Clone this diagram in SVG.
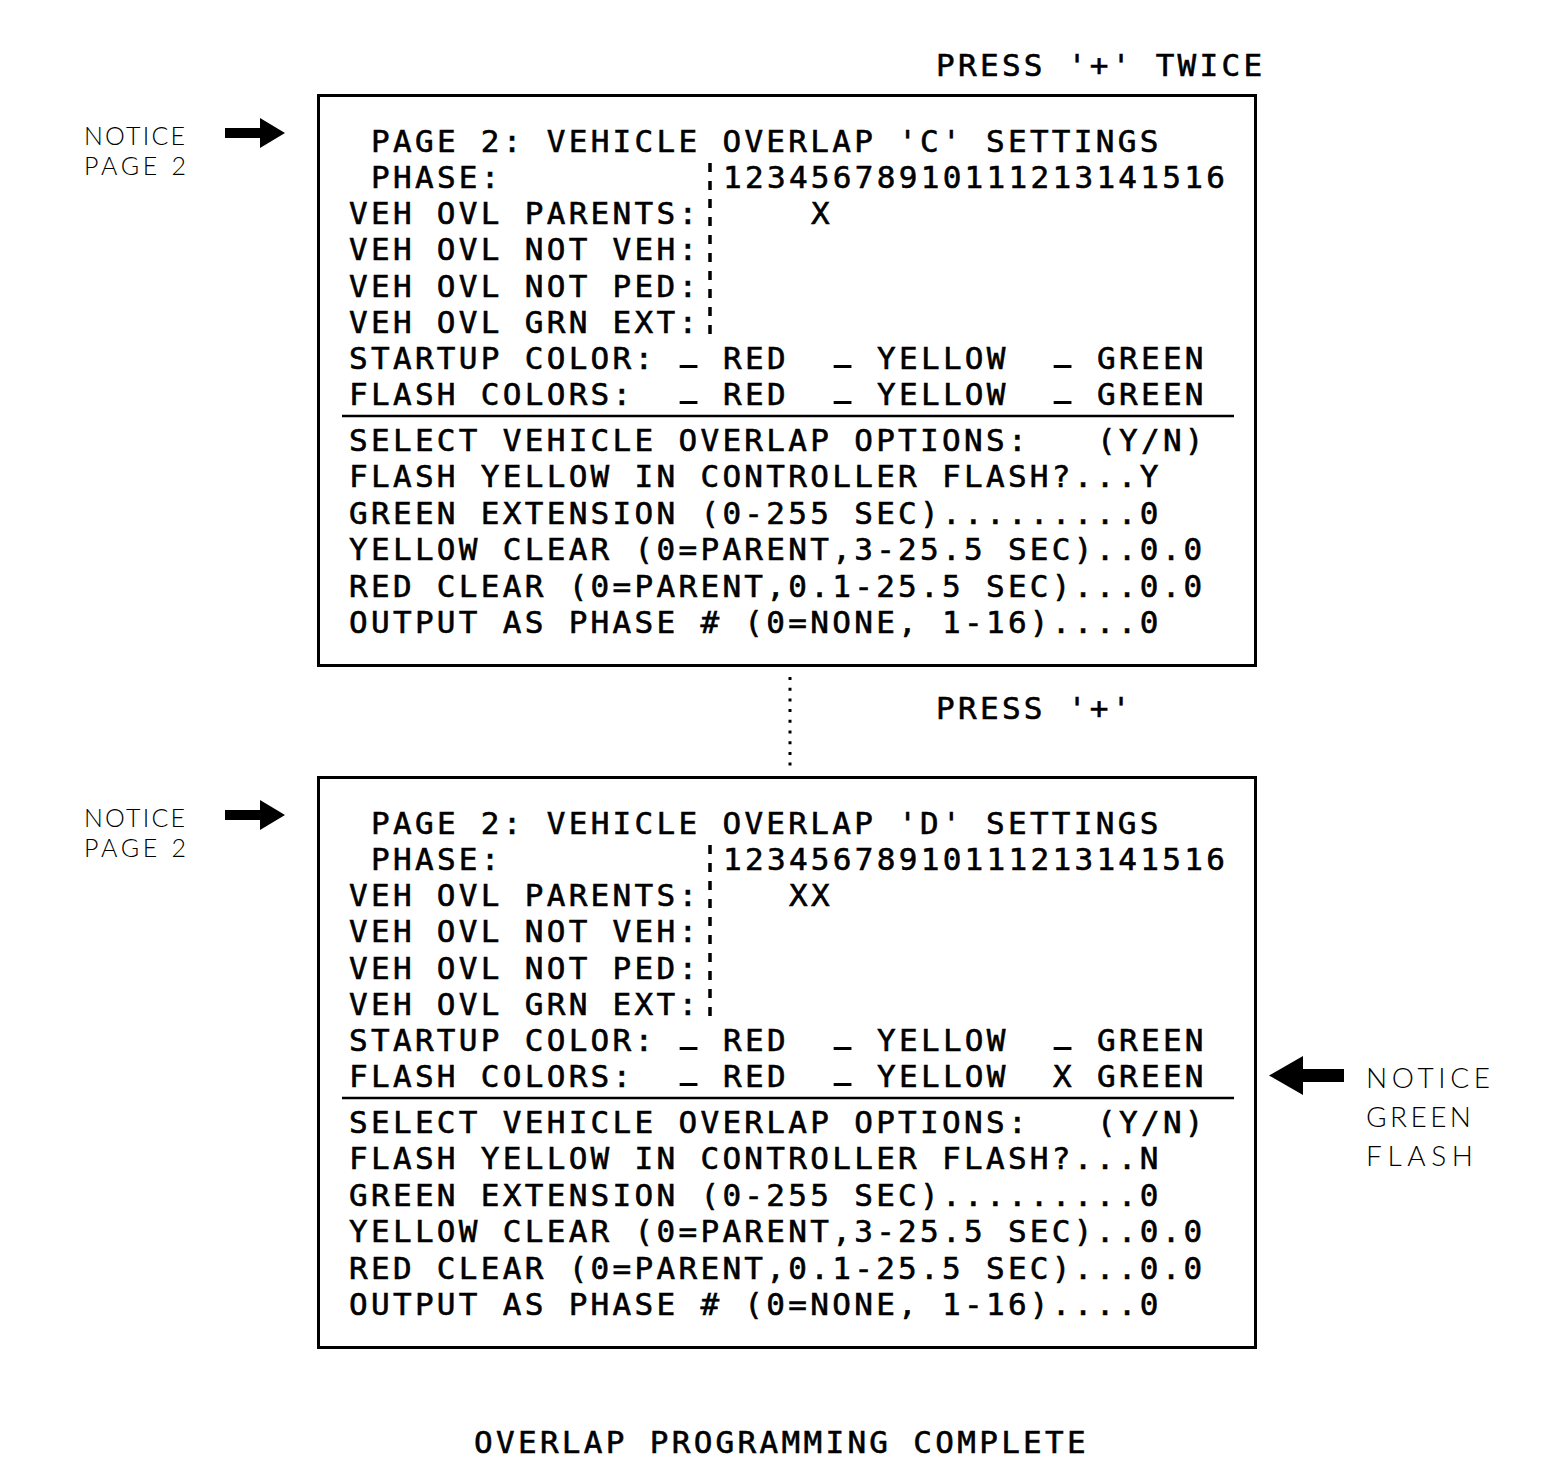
<svg xmlns="http://www.w3.org/2000/svg" width="1568" height="1480" viewBox="0 0 1568 1480">
<style>
.m{font-family:"DejaVu Sans Mono","Liberation Mono",monospace;font-size:31px;letter-spacing:3.3px;fill:#000;stroke:#000;stroke-width:0.6px}
.u{font-family:"DejaVu Sans Mono","Liberation Mono",monospace;font-size:20px;fill:#000;stroke:#000;stroke-width:2.2px}
.t{font-family:"Lato","DejaVu Sans",sans-serif;font-weight:300;fill:#000}
.box{fill:none;stroke:#000;stroke-width:3}
.sep{stroke:#000;stroke-width:2.5}
.bar{stroke:#000;stroke-width:3.5;stroke-dasharray:9 9}
</style>
<rect width="1568" height="1480" fill="#fff"/>

<g id="label-press-twice"><text class="m" x="936" y="76">PRESS '+' TWICE</text></g>
<g id="label-press-once"><text class="m" x="936" y="719">PRESS '+'</text></g>
<g id="label-complete"><text class="m" x="474" y="1453">OVERLAP PROGRAMMING COMPLETE</text></g>

<g id="note-page2-c">
<text class="t" x="84" y="145" font-size="25" textLength="101" lengthAdjust="spacing">NOTICE</text>
<text class="t" x="84" y="175" font-size="25" textLength="102" lengthAdjust="spacing">PAGE 2</text>
</g>
<g id="note-page2-d">
<text class="t" x="84" y="827" font-size="25" textLength="101" lengthAdjust="spacing">NOTICE</text>
<text class="t" x="84" y="857" font-size="25" textLength="102" lengthAdjust="spacing">PAGE 2</text>
</g>
<g id="note-green-flash">
<text class="t" x="1366" y="1088" font-size="28" textLength="124" lengthAdjust="spacing">NOTICE</text>
<text class="t" x="1366" y="1127" font-size="28" textLength="105" lengthAdjust="spacing">GREEN</text>
<text class="t" x="1366" y="1166" font-size="28" textLength="107" lengthAdjust="spacing">FLASH</text>
</g>

<g id="screen-c">
<rect class="box" x="318.5" y="95.5" width="937" height="570"/>
<line class="sep" x1="342" y1="416" x2="1234" y2="416"/>
<line class="bar" x1="710" y1="163" x2="710" y2="336"/>
<text class="m" x="371" y="152">PAGE 2: VEHICLE OVERLAP 'C' SETTINGS</text>
<text class="m" x="371" y="188">PHASE:</text>
<text class="m" x="723" y="188">12345678910111213141516</text>
<text class="m" x="349" y="224">VEH OVL PARENTS:</text>
<text class="m" x="811" y="224">X</text>
<text class="m" x="349" y="260">VEH OVL NOT VEH:</text>
<text class="m" x="349" y="297">VEH OVL NOT PED:</text>
<text class="m" x="349" y="333">VEH OVL GRN EXT:</text>
<text class="m" x="349" y="369">STARTUP COLOR:</text>
<text class="u" x="681" y="362" textLength="15" lengthAdjust="spacingAndGlyphs">_</text><text class="m" x="723" y="369">RED</text>
<text class="u" x="835" y="362" textLength="15" lengthAdjust="spacingAndGlyphs">_</text><text class="m" x="877" y="369">YELLOW</text>
<text class="u" x="1055" y="362" textLength="15" lengthAdjust="spacingAndGlyphs">_</text><text class="m" x="1097" y="369">GREEN</text>
<text class="m" x="349" y="405">FLASH COLORS:</text>
<text class="u" x="681" y="398" textLength="15" lengthAdjust="spacingAndGlyphs">_</text><text class="m" x="723" y="405">RED</text>
<text class="u" x="835" y="398" textLength="15" lengthAdjust="spacingAndGlyphs">_</text><text class="m" x="877" y="405">YELLOW</text>
<text class="u" x="1055" y="398" textLength="15" lengthAdjust="spacingAndGlyphs">_</text><text class="m" x="1097" y="405">GREEN</text>
<text class="m" x="349" y="451">SELECT VEHICLE OVERLAP OPTIONS:</text>
<text class="m" x="1097" y="451">(Y/N)</text>
<text class="m" x="349" y="487">FLASH YELLOW IN CONTROLLER FLASH?...Y</text>
<text class="m" x="349" y="524">GREEN EXTENSION (0-255 SEC).........0</text>
<text class="m" x="349" y="560">YELLOW CLEAR (0=PARENT,3-25.5 SEC)..0.0</text>
<text class="m" x="349" y="597">RED CLEAR (0=PARENT,0.1-25.5 SEC)...0.0</text>
<text class="m" x="349" y="633">OUTPUT AS PHASE # (0=NONE, 1-16)....0</text>
</g>

<g id="screen-d">
<rect class="box" x="318.5" y="777.5" width="937" height="570"/>
<line class="sep" x1="342" y1="1098" x2="1234" y2="1098"/>
<line class="bar" x1="710" y1="845" x2="710" y2="1018"/>
<text class="m" x="371" y="834">PAGE 2: VEHICLE OVERLAP 'D' SETTINGS</text>
<text class="m" x="371" y="870">PHASE:</text>
<text class="m" x="723" y="870">12345678910111213141516</text>
<text class="m" x="349" y="906">VEH OVL PARENTS:</text>
<text class="m" x="789" y="906">XX</text>
<text class="m" x="349" y="942">VEH OVL NOT VEH:</text>
<text class="m" x="349" y="979">VEH OVL NOT PED:</text>
<text class="m" x="349" y="1015">VEH OVL GRN EXT:</text>
<text class="m" x="349" y="1051">STARTUP COLOR:</text>
<text class="u" x="681" y="1044" textLength="15" lengthAdjust="spacingAndGlyphs">_</text><text class="m" x="723" y="1051">RED</text>
<text class="u" x="835" y="1044" textLength="15" lengthAdjust="spacingAndGlyphs">_</text><text class="m" x="877" y="1051">YELLOW</text>
<text class="u" x="1055" y="1044" textLength="15" lengthAdjust="spacingAndGlyphs">_</text><text class="m" x="1097" y="1051">GREEN</text>
<text class="m" x="349" y="1087">FLASH COLORS:</text>
<text class="u" x="681" y="1080" textLength="15" lengthAdjust="spacingAndGlyphs">_</text><text class="m" x="723" y="1087">RED</text>
<text class="u" x="835" y="1080" textLength="15" lengthAdjust="spacingAndGlyphs">_</text><text class="m" x="877" y="1087">YELLOW</text>
<text class="m" x="1053" y="1087">X</text><text class="m" x="1097" y="1087">GREEN</text>
<text class="m" x="349" y="1133">SELECT VEHICLE OVERLAP OPTIONS:</text>
<text class="m" x="1097" y="1133">(Y/N)</text>
<text class="m" x="349" y="1169">FLASH YELLOW IN CONTROLLER FLASH?...N</text>
<text class="m" x="349" y="1206">GREEN EXTENSION (0-255 SEC).........0</text>
<text class="m" x="349" y="1242">YELLOW CLEAR (0=PARENT,3-25.5 SEC)..0.0</text>
<text class="m" x="349" y="1279">RED CLEAR (0=PARENT,0.1-25.5 SEC)...0.0</text>
<text class="m" x="349" y="1315">OUTPUT AS PHASE # (0=NONE, 1-16)....0</text>
</g>

<g id="connectors">
<line x1="790" y1="677" x2="790" y2="767" stroke="#000" stroke-width="3" stroke-dasharray="3 7.7"/>
<path d="M225 128H260V118L285 133L260 148V138H225Z" fill="#000"/>
<path d="M225 810H260V800L285 815L260 830V820H225Z" fill="#000"/>
<path d="M1344 1069H1303V1056L1269 1075.5L1303 1095V1082H1344Z" fill="#000"/>
</g>
</svg>
